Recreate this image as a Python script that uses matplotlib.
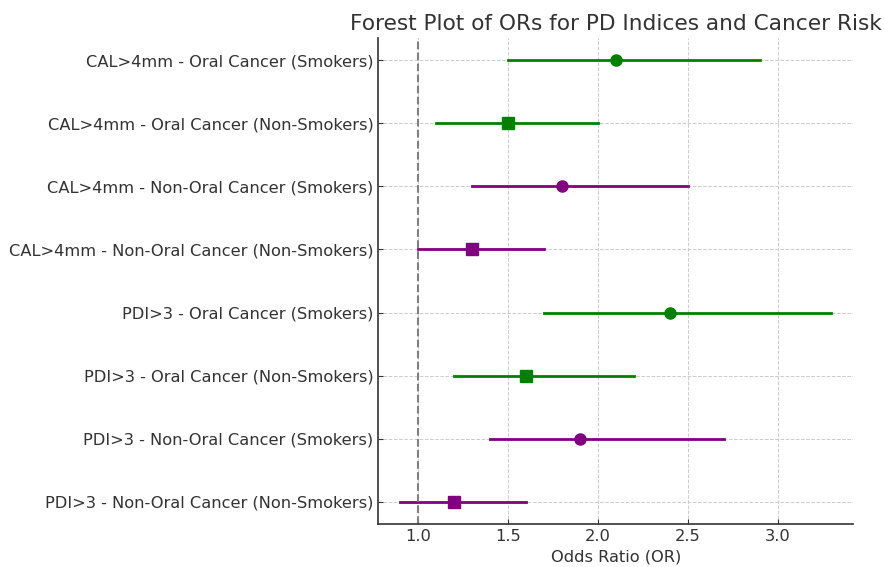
import numpy as np
import matplotlib
matplotlib.use("Agg")
from matplotlib import pyplot as plt

labels = ["CAL>4mm - Oral Cancer (Smokers)",
          "CAL>4mm - Oral Cancer (Non-Smokers)",
          "CAL>4mm - Non-Oral Cancer (Smokers)",
          "CAL>4mm - Non-Oral Cancer (Non-Smokers)",
          "PDI>3 - Oral Cancer (Smokers)",
          "PDI>3 - Oral Cancer (Non-Smokers)",
          "PDI>3 - Non-Oral Cancer (Smokers)",
          "PDI>3 - Non-Oral Cancer (Non-Smokers)"]
odds = [2.1, 1.5, 1.8, 1.3, 2.4, 1.6, 1.9, 1.2]
lower = [1.5, 1.1, 1.3, 1.0, 1.7, 1.2, 1.4, 0.9]
upper = [2.9, 2.0, 2.5, 1.7, 3.3, 2.2, 2.7, 1.6]
colors = ["green", "green", "purple", "purple", "green", "green", "purple", "purple"]
markers = ["o", "s", "o", "s", "o", "s", "o", "s"]

txt = "#333333"
plt.rcParams["text.color"] = txt
plt.rcParams["axes.labelcolor"] = txt
plt.rcParams["xtick.color"] = txt
plt.rcParams["ytick.color"] = txt

fig, ax = plt.subplots(figsize=(8.84, 5.67), dpi=100)
fig.subplots_adjust(left=0.428, right=0.965, top=0.933, bottom=0.076)

ypos = np.arange(len(labels))[::-1]
for i in range(len(labels)):
    ax.plot([lower[i], upper[i]], [ypos[i], ypos[i]], color=colors[i], linewidth=2)
    ax.plot(odds[i], ypos[i], marker=markers[i], color=colors[i], markersize=8, linestyle="")

ax.axvline(1.0, color="gray", linestyle="--", linewidth=1.5)
ax.set_yticks(ypos)
ax.set_yticklabels(labels, fontsize=11.7)
ax.set_xticks([1.0, 1.5, 2.0, 2.5, 3.0])
ax.tick_params(axis="both", labelsize=11.7, direction="in")
ax.set_xlabel("Odds Ratio (OR)", fontsize=11.7)
ax.set_title("Forest Plot of ORs for PD Indices and Cancer Risk", fontsize=15.6, loc="center")
ax.grid(True, linestyle="--", color="#cccccc", linewidth=0.7)
ax.set_axisbelow(True)
ax.spines["top"].set_visible(False)
ax.spines["right"].set_visible(False)
ax.spines["left"].set_color(txt)
ax.spines["bottom"].set_color(txt)
ax.spines["left"].set_linewidth(1.2)
ax.spines["bottom"].set_linewidth(1.2)

plt.savefig("out.png", dpi=100)
